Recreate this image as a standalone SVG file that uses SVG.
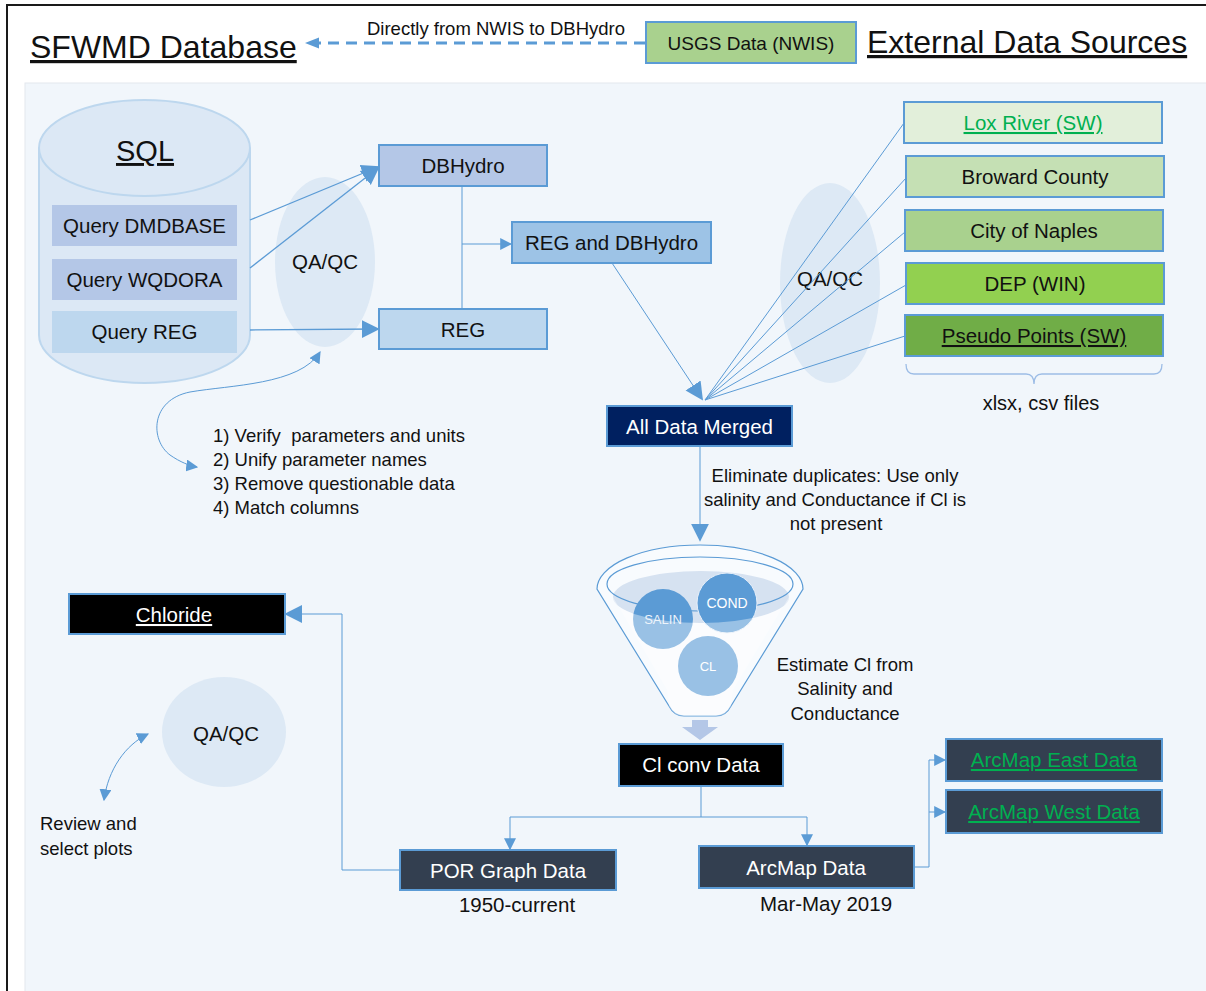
<svg xmlns="http://www.w3.org/2000/svg" width="1206" height="991" viewBox="0 0 1206 991">
<defs>
<style>
text{font-family:"Liberation Sans","DejaVu Sans",sans-serif;fill:#111}
.t{font-size:20.5px;text-anchor:middle}
.s{font-size:18.5px}
.w{fill:#fff}
.box{stroke:#5b9bd5;stroke-width:2}
.c{fill:none;stroke:#5b9bd5;stroke-width:1.3}
.cl{fill:none;stroke:#5b9bd5;stroke-width:1}
.g{fill:#00b050}
</style>
<marker id="ah" viewBox="0 0 10 10" refX="9" refY="5" markerWidth="12" markerHeight="12" markerUnits="userSpaceOnUse" orient="auto-start-reverse">
<path d="M0,0 L10,5 L0,10 Z" fill="#5b9bd5"/>
</marker>
<marker id="ahb" viewBox="0 0 10 10" refX="9" refY="5" markerWidth="18" markerHeight="20" markerUnits="userSpaceOnUse" orient="auto">
<path d="M0,0 L10,5 L0,10 Z" fill="#5b9bd5"/>
</marker>
<marker id="ahd" viewBox="0 0 10 10" refX="5" refY="5" markerWidth="14" markerHeight="14" markerUnits="userSpaceOnUse" orient="auto">
<path d="M0,1 L10,5 L0,9 Z" fill="#5b9bd5"/>
</marker>
</defs>
<rect x="0" y="0" width="1206" height="991" fill="#fff"/>
<rect x="7" y="5" width="1210" height="1000" fill="none" stroke="#1a1a1a" stroke-width="2"/>
<rect x="25" y="83" width="1190" height="920" fill="#f1f6fb" stroke="#e3e8ee" stroke-width="1"/>

<g id="title-sfwmd">
<text x="30" y="58" style="font-size:32px" text-decoration="underline">SFWMD Database</text>
</g>
<g id="title-external">
<text x="867" y="53" style="font-size:32px" text-decoration="underline">External Data Sources</text>
</g>
<g id="usgs">
<rect class="box" x="646" y="22" width="210" height="41" fill="#a9d18e"/>
<text class="t" x="751" y="50" style="font-size:19px">USGS Data (NWIS)</text>
</g>

<g id="sql">
<path d="M39,148 L39,335 A105.5,48 0 0 0 250,335 L250,148" fill="#dce8f5" stroke="#bdd7ee" stroke-width="2"/>
<ellipse cx="144.5" cy="148" rx="105.5" ry="48" fill="#dce8f5" stroke="#bdd7ee" stroke-width="2"/>
<text class="t" x="145" y="161" style="font-size:29px" text-decoration="underline">SQL</text>
</g>
<g id="q-dmdbase">
<rect x="52" y="205" width="185" height="41" fill="#b4c7e7"/>
<text class="t" x="144.5" y="233">Query DMDBASE</text>
</g>
<g id="q-wqdora">
<rect x="52" y="259" width="185" height="41" fill="#b4c7e7"/>
<text class="t" x="144.5" y="287">Query WQDORA</text>
</g>
<g id="q-reg">
<rect x="52" y="311" width="185" height="42" fill="#bdd7ee"/>
<text class="t" x="144.5" y="339">Query REG</text>
</g>

<g id="qaqc-1">
<ellipse cx="325" cy="262" rx="50" ry="85" fill="#dde9f5"/>
<text class="t" x="325" y="269">QA/QC</text>
</g>
<g id="dbhydro">
<rect class="box" x="379" y="145" width="168" height="41" fill="#b4c7e7"/>
<text class="t" x="463" y="173">DBHydro</text>
</g>
<g id="reg">
<rect class="box" x="379" y="309" width="168" height="40" fill="#bdd7ee"/>
<text class="t" x="463" y="337">REG</text>
</g>
<g id="reg-dbhydro">
<rect class="box" x="512" y="222" width="199" height="41" fill="#9dc3e6"/>
<text class="t" x="611.5" y="250">REG and DBHydro</text>
</g>

<g id="steps">
<text class="s" x="213" y="442" xml:space="preserve">1) Verify  parameters and units</text>
<text class="s" x="213" y="466">2) Unify parameter names</text>
<text class="s" x="213" y="490">3) Remove questionable data</text>
<text class="s" x="213" y="514">4) Match columns</text>
</g>

<g id="qaqc-2">
<ellipse cx="830" cy="283" rx="50" ry="100" fill="#dde9f5"/>
<text class="t" x="830" y="286">QA/QC</text>
</g>
<g id="lox">
<rect class="box" x="904" y="102" width="258" height="41" fill="#e2efda"/>
<text class="t g" x="1033" y="130" text-decoration="underline">Lox River (SW)</text>
</g>
<g id="broward">
<rect class="box" x="906" y="156" width="258" height="41" fill="#c5e0b4"/>
<text class="t" x="1035" y="184">Broward County</text>
</g>
<g id="naples">
<rect class="box" x="905" y="210" width="258" height="41" fill="#a9d18e"/>
<text class="t" x="1034" y="238">City of Naples</text>
</g>
<g id="dep">
<rect class="box" x="906" y="263" width="258" height="41" fill="#92d050"/>
<text class="t" x="1035" y="291">DEP (WIN)</text>
</g>
<g id="pseudo">
<rect class="box" x="905" y="315" width="258" height="41" fill="#70ad47"/>
<text class="t" x="1034" y="343" text-decoration="underline">Pseudo Points (SW)</text>
</g>
<g id="files">
<path d="M906,364 Q906,374 914,374 L1026,374 Q1034,374 1034,384 Q1034,374 1042,374 L1154,374 Q1162,374 1162,364" fill="none" stroke="#9dbde6" stroke-width="1.3"/>
<text class="t" x="1041" y="410" style="font-size:20px">xlsx, csv files</text>
</g>

<g id="all-merged">
<rect class="box" x="607" y="406" width="185" height="40" fill="#002060"/>
<text class="t w" x="699.5" y="434">All Data Merged</text>
</g>
<g id="eliminate">
<text class="t s" x="835" y="482">Eliminate duplicates: Use only</text>
<text class="t s" x="835" y="506">salinity and Conductance if Cl is</text>
<text class="t s" x="836" y="530">not present</text>
</g>

<g id="funnel">
<path d="M597,589 A103,44 0 0 1 803,589 L731,706 Q726,716 716,716 L684,716 Q674,716 669,706 Z" fill="#f8fbfe" stroke="#5b9bd5" stroke-width="1.2"/>
<ellipse cx="701" cy="597" rx="88" ry="26" fill="#d6e2f1"/>
<ellipse cx="700" cy="584" rx="93" ry="27" fill="none" stroke="#5b9bd5" stroke-width="1.2"/>
<circle cx="663" cy="619" r="30" fill="#5b9bd5"/>
<circle cx="727" cy="603" r="30" fill="#5b9bd5" stroke="#e8f0fa" stroke-width="1"/>
<circle cx="708" cy="666" r="30" fill="#5b9bd5"/>
<path d="M613,597 A88,26 0 0 0 789,597 L733,690 L667,690 Z" fill="#ffffff" fill-opacity="0.38"/>
<path d="M667,690 L733,690 L731,706 Q726,716 716,716 L684,716 Q674,716 669,706 Z" fill="#ffffff" fill-opacity="0.38"/>
<text x="663" y="624" style="font-size:13px;text-anchor:middle;fill:#eef4fb">SALIN</text>
<text x="727" y="608" style="font-size:14px;text-anchor:middle;fill:#fff">COND</text>
<text x="708" y="671" style="font-size:13px;text-anchor:middle;fill:#fff">CL</text>
<path d="M692,720 L708,720 L708,727 L718,727 L700,740 L682,727 L692,727 Z" fill="#b4c7e7"/>
</g>
<g id="estimate">
<text class="t s" x="845" y="671">Estimate Cl from</text>
<text class="t s" x="845" y="695">Salinity and</text>
<text class="t s" x="845" y="720">Conductance</text>
</g>
<g id="clconv">
<rect class="box" x="619" y="744" width="164" height="42" fill="#000"/>
<text class="t w" x="701" y="772">Cl conv Data</text>
</g>
<g id="chloride">
<rect class="box" x="69" y="594" width="216" height="40" fill="#000"/>
<text class="t w" x="174" y="622" text-decoration="underline">Chloride</text>
</g>
<g id="qaqc-3">
<ellipse cx="224" cy="732" rx="62" ry="55" fill="#dde9f5"/>
<text class="t" x="226" y="741">QA/QC</text>
</g>
<g id="review">
<text class="s" x="40" y="830">Review and</text>
<text class="s" x="40" y="855">select plots</text>
</g>
<g id="por">
<rect class="box" x="400" y="850" width="216" height="40" fill="#333f50"/>
<text class="t w" x="508" y="878">POR Graph Data</text>
<text class="t" x="517" y="912">1950-current</text>
</g>
<g id="arcmap">
<rect class="box" x="699" y="846" width="215" height="42" fill="#333f50"/>
<text class="t w" x="806" y="875">ArcMap Data</text>
<text class="t" x="826" y="911">Mar-May 2019</text>
</g>
<g id="arcmap-east">
<rect class="box" x="946" y="739" width="216" height="42" fill="#333f50"/>
<text class="t g" x="1054" y="767" text-decoration="underline">ArcMap East Data</text>
</g>
<g id="arcmap-west">
<rect class="box" x="946" y="790" width="216" height="43" fill="#333f50"/>
<text class="t g" x="1054" y="819" text-decoration="underline">ArcMap West Data</text>
</g>

<g id="connectors">
<path d="M645,43 L312,43" fill="none" stroke="#5b9bd5" stroke-width="3" stroke-dasharray="11,7" marker-end="url(#ahd)"/>
<text class="t s" x="496" y="35">Directly from NWIS to DBHydro</text>
<path class="c" d="M250,220 L378,167" marker-end="url(#ahb)"/>
<path class="c" d="M250,268 L378,168" marker-end="url(#ahb)"/>
<path class="c" d="M250,330 L378,329" marker-end="url(#ahb)"/>
<path class="cl" d="M462,186 L462,309"/>
<path class="cl" d="M462,244 L511,244" marker-end="url(#ah)"/>
<path class="cl" d="M320,352 C300,385 230,385 190,392 C150,400 150,440 170,455 C180,462 190,466 197,467" marker-start="url(#ah)" marker-end="url(#ah)"/>
<path class="cl" d="M612,263 L702,399" marker-end="url(#ahb)"/>
<path class="cl" d="M904,123 L705,400"/>
<path class="cl" d="M906,178 L705,400"/>
<path class="cl" d="M905,232 L705,400"/>
<path class="cl" d="M906,285 L705,400"/>
<path class="cl" d="M905,336 L705,400"/>
<path class="cl" d="M700,446 L700,540" marker-end="url(#ahb)"/>
<path class="cl" d="M701,786 L701,817 M510,817 L807,817"/>
<path class="cl" d="M510,817 L510,849" marker-end="url(#ah)"/>
<path class="cl" d="M807,817 L807,845" marker-end="url(#ah)"/>
<path class="cl" d="M400,870 L342,870 L342,614 L286,614" marker-end="url(#ahb)"/>
<path class="cl" d="M148,734 C125,745 108,770 104,800" marker-start="url(#ah)" marker-end="url(#ah)"/>
<path class="cl" d="M914,867 L929,867 L929,760 L945,760" marker-end="url(#ah)"/>
<path class="cl" d="M929,812 L945,812" marker-end="url(#ah)"/>
</g>
</svg>
